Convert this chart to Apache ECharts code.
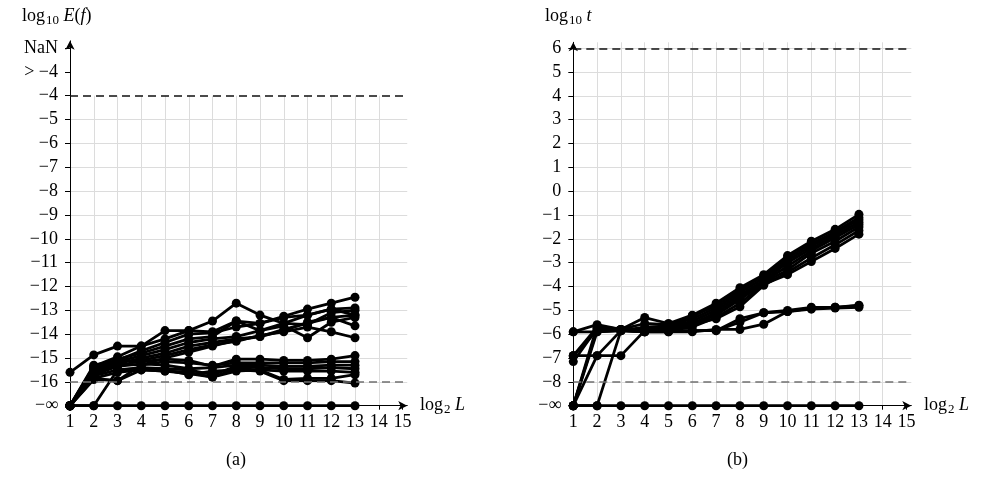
<!DOCTYPE html>
<html>
<head>
<meta charset="utf-8">
<script src="https://cdn.jsdelivr.net/npm/echarts@6/dist/echarts.min.js"></script>
<style>
  html, body { margin: 0; padding: 0; background: #fff; }
  #chart { width: 985px; height: 487px; }
</style>
</head>
<body>
<div id="chart"></div>
<script>
// log2 L levels on the horizontal axis
const levels = [1, 2, 3, 4, 5, 6, 7, 8, 9, 10, 11, 12, 13]
const xTicks = [1, 2, 3, 4, 5, 6, 7, 8, 9, 10, 11, 12, 13, 14, 15]

// (a) log10 E(f); -17 stands for -inf, -3 for "> -4", -2 for NaN
const errorRising = [
  [-15.6, -14.87, -14.5, -14.5, -13.85, -13.85, -13.45, -12.7, -13.2, -13.55, -13.2, -12.95, -12.9],
  [-17, -15.35, -14.95, -14.5, -14.2, -13.85, -13.9, -13.45, -13.55, -13.25, -12.95, -12.7, -12.45],
  [-17, -15.3, -15.1, -14.7, -14.35, -14.0, -13.95, -13.7, -13.55, -13.3, -13.2, -12.95, -13.2],
  [-17, -15.45, -15.05, -14.8, -14.5, -14.2, -14.1, -13.45, -13.85, -13.55, -13.6, -13.1, -13.0],
  [-17, -15.5, -15.15, -14.9, -14.65, -14.35, -14.2, -14.1, -13.85, -13.65, -14.15, -13.5, -13.3],
  [-17, -15.6, -15.25, -15.0, -14.8, -14.5, -14.35, -14.2, -14.1, -13.85, -13.5, -13.3, -13.65],
  [-17, -15.7, -15.35, -15.1, -14.9, -14.65, -14.45, -14.3, -14.05, -13.9, -13.7, -13.9, -14.15],
  [-17, -15.85, -15.95, -15.3, -15.0, -14.75, -14.5, -14.25, -14.1, -13.8, -13.55, -13.3, -13.2]
]
const errorFlat = [
  [-17, -15.4, -15.1, -15.15, -15.05, -15.1, -15.35, -15.05, -15.05, -15.1, -15.1, -15.05, -14.9],
  [-17, -15.5, -15.25, -15.3, -15.15, -15.2, -15.3, -15.2, -15.2, -15.2, -15.2, -15.15, -15.15],
  [-17, -15.6, -15.35, -15.25, -15.3, -15.45, -15.4, -15.3, -15.3, -15.35, -15.35, -15.3, -15.3],
  [-17, -15.75, -15.5, -15.4, -15.45, -15.5, -15.7, -15.35, -15.4, -15.45, -15.45, -15.4, -15.45],
  [-17, -15.85, -15.6, -15.5, -15.55, -15.6, -15.8, -15.45, -15.5, -15.55, -15.55, -15.55, -15.6],
  [-17, -17, -15.5, -15.45, -15.5, -15.7, -15.55, -15.5, -15.55, -15.95, -15.95, -15.95, -16.05],
  [-17, -15.9, -15.95, -15.5, -15.55, -15.65, -15.8, -15.55, -15.5, -15.9, -15.85, -15.85, -15.7]
]
const errorZero = [
  [-17, -17, -17, -17, -17, -17, -17, -17, -17, -17, -17, -17, -17]
]
const errorLimits = [-4, -16]

// (b) log10 t; -9 stands for -inf
const timeRising = [
  [-5.9, -5.6, -5.8, -5.3, -5.55, -5.2, -4.7, -4.05, -3.5, -2.7, -2.1, -1.6, -0.97],
  [-6.9, -5.7, -5.8, -5.55, -5.6, -5.25, -4.8, -4.15, -3.55, -2.8, -2.2, -1.7, -1.1],
  [-7.15, -5.75, -5.85, -5.7, -5.65, -5.35, -4.9, -4.25, -3.65, -2.9, -2.3, -1.75, -1.2],
  [-9, -5.8, -5.85, -5.8, -5.7, -5.45, -5.0, -4.35, -3.75, -3.0, -2.4, -1.85, -1.3],
  [-9, -6.9, -6.9, -5.85, -5.75, -5.55, -5.1, -4.45, -3.8, -3.15, -2.5, -1.95, -1.4],
  [-9, -9, -5.85, -5.9, -5.8, -5.6, -5.2, -4.55, -3.85, -3.3, -2.6, -2.1, -1.5],
  [-6.9, -5.85, -5.8, -5.85, -5.85, -5.7, -5.3, -4.7, -3.9, -3.5, -2.95, -2.4, -1.8],
  [-9, -5.65, -5.8, -5.9, -5.75, -5.6, -5.35, -4.85, -3.95, -3.4, -2.8, -2.25, -1.65]
]
const timeFlat = [
  [-5.9, -5.9, -5.85, -5.85, -5.85, -5.85, -5.85, -5.35, -5.1, -5.05, -4.9, -4.87, -4.78],
  [-9, -5.9, -5.85, -5.9, -5.9, -5.9, -5.8, -5.8, -5.58, -5.05, -4.95, -4.9, -4.87],
  [-6.9, -6.9, -5.85, -5.9, -5.9, -5.85, -5.85, -5.5, -5.1, -5.0, -4.87, -4.87, -4.8]
]
const timeZero = [
  [-9, -9, -9, -9, -9, -9, -9, -9, -9, -9, -9, -9, -9]
]
const timeLimits = [6, -8]

const FONT = 'Liberation Serif'
const SIZE = 18
const gridLine = { show: true, lineStyle: { color: '#dcdcdc', width: 1 }, showMaxLine: false }

function whole(v) {
  const r = Math.round(v)
  return Math.abs(v - r) < 1e-6 ? r : null
}
function minus(n) {
  return n < 0 ? '\u2212' + (-n) : String(n)
}

function xAxisFor(gridIndex) {
  return {
    type: 'value', gridIndex, min: 1, max: 15.2, interval: 1,
    axisLine: { show: true, onZero: false, symbol: ['none', 'arrow'], symbolSize: [7, 9], lineStyle: { color: '#000', width: 1 } },
    axisTick: { show: true, length: 4, customValues: xTicks, lineStyle: { color: '#000' } },
    axisLabel: {
      margin: 8, color: '#000', fontFamily: FONT, fontSize: SIZE, customValues: xTicks,
      formatter: v => { const r = whole(v); return r === null ? '' : String(r) }
    },
    splitLine: gridLine
  }
}

function runs(list, xi, yi) {
  return list.map(vals => ({
    type: 'line', xAxisIndex: xi, yAxisIndex: yi, z: 3, silent: true,
    data: levels.map((L, i) => [L, vals[i]]),
    symbol: 'circle', symbolSize: 9,
    itemStyle: { color: '#000' },
    lineStyle: { color: '#000', width: 2.8 }
  }))
}

function limits(vals, xi, yi) {
  return {
    type: 'line', xAxisIndex: xi, yAxisIndex: yi, z: 1, silent: true, data: [],
    markLine: {
      symbol: 'none', silent: true, animation: false, label: { show: false },
      data: vals.map((v, i) => ({
        yAxis: v,
        lineStyle: { type: [8, 5], width: 1.5, color: i === 0 ? '#111' : '#707070' }
      }))
    }
  }
}

const rich = {
  t: { fontFamily: FONT, fontSize: SIZE, fontWeight: 'normal', color: '#000' },
  i: { fontFamily: FONT, fontSize: SIZE, fontWeight: 'normal', fontStyle: 'italic', color: '#000' },
  s: { fontFamily: FONT, fontSize: 13, fontWeight: 'normal', color: '#000', padding: [9, 0, 0, 1] }
}
function label(text, left, top) {
  return { text, left, top, padding: 0, textStyle: { fontWeight: 'normal', rich } }
}

const chart = echarts.init(document.getElementById('chart'))
chart.setOption({
  animation: false,
  backgroundColor: '#fff',
  textStyle: { fontFamily: FONT },
  title: [
    label('{t|log}{s|10}{t| }{i|E}{t|(}{i|f}{t|)}', 22, 5),
    label('{t|log}{s|2}{t| }{i|L}', 420, 394),
    label('{t|(a)}', 226, 451),
    label('{t|log}{s|10}{t| }{i|t}', 545, 5),
    label('{t|log}{s|2}{t| }{i|L}', 924, 394),
    label('{t|(b)}', 727, 451)
  ],
  grid: [
    { left: 70, top: 95.7, width: 337.25, height: 310, containLabel: false, outerBoundsMode: 'none' },
    { left: 70, top: 40.85, width: 337.25, height: 54.85, containLabel: false, outerBoundsMode: 'none' },
    { left: 573.3, top: 42.3, width: 338, height: 363.4, containLabel: false, outerBoundsMode: 'none' }
  ],
  xAxis: [
    xAxisFor(0),
    { type: 'value', gridIndex: 1, min: 1, max: 15.2, show: false },
    xAxisFor(2)
  ],
  yAxis: [
    {
      type: 'value', gridIndex: 0, min: -17, max: -4, interval: 1,
      axisLine: { show: true, onZero: false, lineStyle: { color: '#000', width: 1 } },
      axisTick: { show: true, length: 5, lineStyle: { color: '#000' } },
      axisLabel: {
        margin: 12, color: '#000', fontFamily: FONT, fontSize: SIZE,
        formatter: v => { const r = whole(v); return r === null ? '' : (r === -17 ? '\u2212\u221e' : minus(r)) }
      },
      splitLine: gridLine
    },
    {
      type: 'value', gridIndex: 1, min: -4, max: -1.7, interval: 1,
      axisLine: { show: true, onZero: false, symbol: ['none', 'arrow'], symbolSize: [7, 9], lineStyle: { color: '#000', width: 1 } },
      axisTick: { show: true, length: 5, customValues: [-3, -2], lineStyle: { color: '#000' } },
      axisLabel: {
        margin: 12, color: '#000', fontFamily: FONT, fontSize: SIZE, customValues: [-3, -2],
        formatter: v => { const r = whole(v); return r === -3 ? '> \u22124' : (r === -2 ? 'NaN' : '') }
      },
      splitLine: { show: true, showMinLine: false, showMaxLine: false, lineStyle: { color: '#000', type: [1, 3], width: 1 } }
    },
    {
      type: 'value', gridIndex: 2, min: -9, max: 6.25, interval: 1,
      axisLine: { show: true, onZero: false, symbol: ['none', 'arrow'], symbolSize: [7, 9], lineStyle: { color: '#000', width: 1 } },
      axisTick: { show: true, length: 5, lineStyle: { color: '#000' } },
      axisLabel: {
        margin: 12, color: '#000', fontFamily: FONT, fontSize: SIZE, showMaxLabel: false,
        formatter: v => { const r = whole(v); return r === null ? '' : (r === -9 ? '\u2212\u221e' : minus(r)) }
      },
      splitLine: gridLine
    }
  ],
  series: [
    limits(errorLimits, 0, 0),
    { type: 'line', xAxisIndex: 1, yAxisIndex: 1, data: [] },
    ...runs(errorZero, 0, 0),
    ...runs(errorFlat, 0, 0),
    ...runs(errorRising, 0, 0),
    limits(timeLimits, 2, 2),
    ...runs(timeZero, 2, 2),
    ...runs(timeFlat, 2, 2),
    ...runs(timeRising, 2, 2)
  ]
})
</script>
</body>
</html>
